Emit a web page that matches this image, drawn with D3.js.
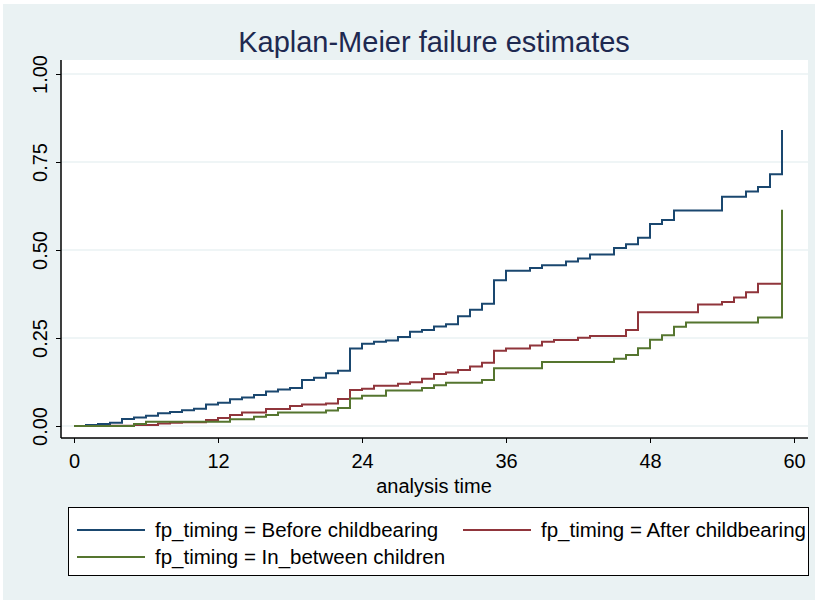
<!DOCTYPE html>
<html>
<head>
<meta charset="utf-8">
<script src="https://cdn.jsdelivr.net/npm/d3@7"></script>
<style>
body { margin: 0; background: #fff; }
svg text { font-family: "Liberation Sans", Arial, Helvetica, sans-serif; }
</style>
</head>
<body>
<svg id="chart" width="818" height="603"></svg>
<script>
// analysis time (months) at each step, and failure estimate from that time on
var beforeTime = [0, 1, 2, 3, 4, 5, 6, 7, 8, 9, 10, 11, 12, 13, 14, 15, 16, 17, 18, 19, 20, 21, 22, 23, 24, 25, 26, 27, 28, 29, 30, 31, 32, 33, 34, 35, 36, 38, 39, 41, 42, 43, 45, 46, 47, 48, 49, 50, 54, 56, 57, 58, 59];
var beforeFail = [0, 0.003, 0.006, 0.009, 0.020, 0.024, 0.029, 0.036, 0.040, 0.045, 0.049, 0.061, 0.066, 0.076, 0.081, 0.088, 0.098, 0.104, 0.108, 0.131, 0.137, 0.150, 0.157, 0.220, 0.234, 0.239, 0.243, 0.253, 0.268, 0.273, 0.283, 0.289, 0.312, 0.330, 0.347, 0.414, 0.441, 0.449, 0.457, 0.467, 0.476, 0.487, 0.506, 0.516, 0.535, 0.574, 0.585, 0.612, 0.651, 0.666, 0.679, 0.715, 0.841];

var afterTime = [0, 3, 5, 7, 8, 9, 11, 12, 13, 14, 16, 18, 19, 21, 22, 23, 24, 25, 27, 28, 29, 30, 31, 32, 33, 34, 35, 36, 38, 39, 40, 42, 43, 46, 47, 52, 54, 55, 56, 57, 59];
var afterFail = [0, 0.001, 0.003, 0.007, 0.009, 0.011, 0.017, 0.023, 0.031, 0.038, 0.048, 0.057, 0.061, 0.064, 0.077, 0.102, 0.106, 0.114, 0.120, 0.124, 0.134, 0.148, 0.152, 0.159, 0.169, 0.180, 0.214, 0.220, 0.229, 0.239, 0.244, 0.251, 0.256, 0.273, 0.323, 0.345, 0.352, 0.365, 0.380, 0.404, 0.404];

var betweenTime = [0, 5, 6, 13, 15, 16, 17, 21, 22, 23, 24, 26, 29, 30, 31, 34, 35, 39, 45, 46, 47, 48, 49, 50, 51, 57, 59];
var betweenFail = [0, 0.006, 0.012, 0.019, 0.026, 0.031, 0.038, 0.044, 0.051, 0.078, 0.086, 0.101, 0.108, 0.116, 0.123, 0.131, 0.164, 0.182, 0.191, 0.202, 0.221, 0.245, 0.258, 0.282, 0.294, 0.308, 0.614];

var xTicks = [0, 12, 24, 36, 48, 60];
var yTicks = [0, 0.25, 0.5, 0.75, 1];

var series = [
	{ label: "fp_timing = Before childbearing", color: "#1a476f", time: beforeTime, fail: beforeFail },
	{ label: "fp_timing = After childbearing", color: "#90353b", time: afterTime, fail: afterFail },
	{ label: "fp_timing = In_between children", color: "#55752f", time: betweenTime, fail: betweenFail }
];

var svg = d3.select("#chart");

// graph region
svg.append("rect")
	.attr("x", 3).attr("y", 4)
	.attr("width", 812).attr("height", 596)
	.attr("fill", "#eaf2f3");

// plot region
svg.append("rect")
	.attr("x", 61).attr("y", 60)
	.attr("width", 747).attr("height", 378)
	.attr("fill", "#ffffff");

var x = d3.scaleLinear().domain([0, 60]).range([74, 794]);
var y = d3.scaleLinear().domain([0, 1]).range([426, 74]);

// grid
svg.append("g").selectAll("line").data(yTicks).enter().append("line")
	.attr("x1", 61).attr("x2", 808)
	.attr("y1", function(d) { return y(d); })
	.attr("y2", function(d) { return y(d); })
	.attr("stroke", "#eaf2f3")
	.attr("stroke-width", 1.5);

// title
svg.append("text")
	.attr("x", 434).attr("y", 52)
	.attr("text-anchor", "middle")
	.attr("font-size", 29)
	.attr("fill", "#1e2950")
	.text("Kaplan-Meier failure estimates");

// curves
var line = d3.line()
	.x(function(d) { return x(d[0]); })
	.y(function(d) { return y(d[1]); })
	.curve(d3.curveStepAfter);

series.forEach(function(s) {
	var pts = s.time.map(function(t, i) { return [t, s.fail[i]]; });
	svg.append("path")
		.datum(pts)
		.attr("d", line)
		.attr("fill", "none")
		.attr("stroke", s.color)
		.attr("stroke-width", 2);
});

// axes
var xAxis = svg.append("g")
	.attr("transform", "translate(0,438)")
	.call(d3.axisBottom(x).tickValues(xTicks).tickSize(5).tickSizeOuter(0));
xAxis.select(".domain").attr("d", "M61,0H808").attr("stroke", "#000").attr("stroke-width", 1.5);
xAxis.selectAll(".tick line").attr("stroke", "#000");
xAxis.selectAll(".tick text")
	.attr("font-size", 20).attr("fill", "#000").attr("y", 16).attr("dy", "0.71em")
	.attr("font-family", "'Liberation Sans', Arial, sans-serif");

var yAxis = svg.append("g")
	.attr("transform", "translate(61,0)")
	.call(d3.axisLeft(y).tickValues(yTicks).tickFormat(d3.format(".2f")).tickSize(5).tickSizeOuter(0));
yAxis.select(".domain").attr("d", "M0,60V438").attr("stroke", "#000").attr("stroke-width", 1.5);
yAxis.selectAll(".tick line").attr("stroke", "#000");
yAxis.selectAll(".tick text")
	.attr("font-size", 20).attr("fill", "#000")
	.attr("font-family", "'Liberation Sans', Arial, sans-serif")
	.attr("x", null).attr("dy", null)
	.attr("text-anchor", "middle")
	.attr("transform", "translate(-14,0) rotate(-90)");

svg.append("text")
	.attr("x", 434).attr("y", 493)
	.attr("text-anchor", "middle")
	.attr("font-size", 20)
	.attr("fill", "#000")
	.text("analysis time");

// legend
var legend = svg.append("g");
legend.append("rect")
	.attr("x", 68.5).attr("y", 507.5)
	.attr("width", 740).attr("height", 68)
	.attr("fill", "#fff")
	.attr("stroke", "#000")
	.attr("stroke-width", 1);

var legendPos = [[77, 530], [463, 530], [77, 557]];
series.forEach(function(s, i) {
	var p = legendPos[i];
	legend.append("line")
		.attr("x1", p[0]).attr("x2", p[0] + 68)
		.attr("y1", p[1]).attr("y2", p[1])
		.attr("stroke", s.color).attr("stroke-width", 2);
	legend.append("text")
		.attr("x", p[0] + 78).attr("y", p[1] + 7)
		.attr("font-size", 20.5)
		.attr("fill", "#000")
		.text(s.label);
});
</script>
</body>
</html>
